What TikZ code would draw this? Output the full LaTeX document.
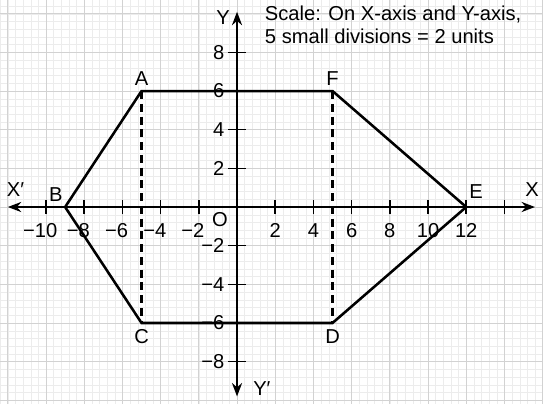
\documentclass[tikz,border=0pt]{standalone}
\usepackage{fontspec}
\setmainfont{Liberation Sans}
\usetikzlibrary{arrows.meta,positioning}

\begin{document}
\begin{tikzpicture}[x=0.5cm,y=0.506cm,
every node/.style={font=\fontsize{15}{17}\selectfont},
axis/.style={line width=1.6pt,{Stealth[length=10pt,width=7.5pt]}-{Stealth[length=10pt,width=7.5pt]}},
side/.style={line width=1.9pt},
dashline/.style={line width=1.9pt,dash pattern=on 6pt off 3.5pt},
tick/.style={line width=1.1pt},
pt/.style={inner sep=2pt}]
\useasboundingbox (-12.41,-10.19) rectangle (16.02,10.71);
\draw[gray!15,line width=0.3pt,step=0.4] (-12.41,-10.19) grid (16.02,10.71);
\draw[gray!35,line width=0.5pt,step=2] (-12.41,-10.19) grid (16.02,10.71);
\coordinate (xl) at (-12,0);
\coordinate (xr) at (15.6,0);
\coordinate (yt) at (0,10.1);
\coordinate (yb) at (0,-9.8);
\draw[axis] (xl) -- (xr);
\draw[axis] (yb) -- (yt);
\foreach \x in {-10,-8,-6,-4,-2,2,4,6,8,10,12,14}
  \draw[tick] (\x,-0.35) -- (\x,0.35);
\foreach \y in {-8,-6,-4,-2,2,4,6,8}
  \draw[tick] (-0.45,\y) -- (0.45,\y);
\foreach \x in {2,4,...,12}
  \node (tx\x) at (\x,-1.2) {\x};
\foreach \x in {2,4,...,10}
  \node (tx-\x) at (-\x,-1.2) {\llap{−}\x};
\foreach \y in {2,4,6,8}{
  \node[anchor=east,inner sep=0pt] (ty\y) at (-0.65,\y) {\y};
  \node[anchor=east,inner sep=0pt] (ty-\y) at (-0.65,-\y) {−\y};
}
\node (o) at (-0.89,-0.67) {O};
\node (lxl) at (-11.6,0.88) {X′};
\node (lxr) at (15.45,0.88) {X};
\node (lyt) at (-0.73,9.78) {Y};
\node (lyb) at (1.3,-9.4) {Y′};
\coordinate (A) at (-5,6);
\coordinate (B) at (-9,0);
\coordinate (C) at (-5,-6);
\coordinate (D) at (5,-6);
\coordinate (E) at (12,0);
\coordinate (F) at (5,6);
\draw[side] (B) -- (A) -- (F) -- (E) -- (D) -- (C) -- cycle;
\draw[dashline] (A) -- (C);
\draw[dashline] (F) -- (D);
\node[pt,above=2pt of A] (lA) {A};
\node[pt,above=2pt of F] (lF) {F};
\node[pt,below=2.5pt of C] (lC) {C};
\node[pt,below=2.5pt of D] (lD) {D};
\node (lB) at (-9.48,0.62) {B};
\node (lE) at (12.51,0.78) {E};
\node[anchor=north west,inner sep=0pt,align=left] (scale) at (1.45,10.4)
  {Scale: On X-axis and Y-axis,\\5 small divisions = 2 units};
\end{tikzpicture}
\end{document}
